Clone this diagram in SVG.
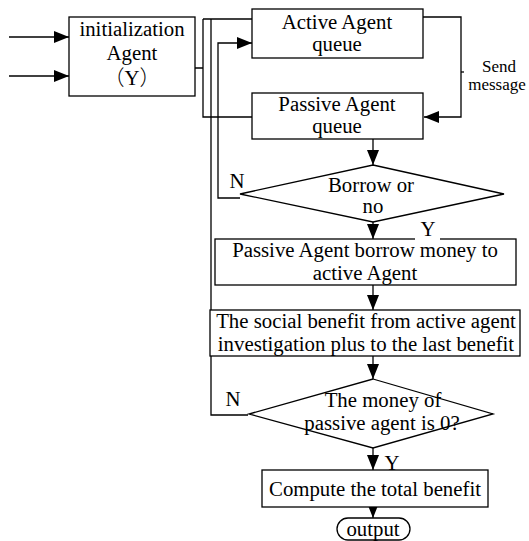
<svg xmlns="http://www.w3.org/2000/svg" width="529" height="541" viewBox="0 0 529 541">
<style>
.box{fill:#fff;stroke:#000;stroke-width:1.3}
.ln{fill:none;stroke:#000;stroke-width:1.3}
.t{font-family:"Liberation Serif","Times New Roman",Times,serif;font-size:20.8px;fill:#000;text-anchor:middle}
.s{font-size:17px}
.cjk{font-family:"Noto Sans CJK SC",sans-serif;font-weight:300}
</style>
<defs>
<marker id="ah" markerUnits="userSpaceOnUse" markerWidth="16" markerHeight="12" refX="15" refY="6" orient="auto">
<path d="M0,0 L15,6 L0,12 Z" fill="#000"/>
</marker>
</defs>
<rect width="529" height="541" fill="#fff"/>
<g id="connectors">
<path class="ln" d="M9,37 H69" marker-end="url(#ah)"/>
<path class="ln" d="M9,76 H69" marker-end="url(#ah)"/>
<path class="ln" d="M195,68 H203 M203,19 V117 H252"/>
<path class="ln" d="M203,19 H272" marker-end="url(#ah)"/>
<path class="ln" d="M248,415 H211 V19"/>
<path class="ln" d="M240,198 H218 V43 H252" marker-end="url(#ah)"/>
<path class="ln" d="M423,17 H461 V117 H424" marker-end="url(#ah)"/>
<path class="ln" d="M461,72 H464"/>
<path class="ln" d="M373,139 V165" marker-end="url(#ah)"/>
<path class="ln" d="M373,222 V239" marker-end="url(#ah)"/>
<path class="ln" d="M373,285 V310" marker-end="url(#ah)"/>
<path class="ln" d="M373,356 V379" marker-end="url(#ah)"/>
<path class="ln" d="M373,448 V470" marker-end="url(#ah)"/>
<path class="ln" d="M373,507 V518" marker-end="url(#ah)"/>
<text class="t s" x="499" y="72">Send</text>
<text class="t s" x="497" y="90">message</text>
<text class="t" x="237" y="188">N</text>
<text class="t" x="233" y="406">N</text>
<text class="t" x="392" y="470">Y</text>
</g>
<g id="init">
<rect class="box" x="69" y="17" width="126" height="79"/>
<text class="t" x="132" y="36">initialization</text>
<text class="t" x="132" y="60">Agent</text>
<text class="t" x="132" y="85"><tspan class="cjk">（</tspan>Y<tspan class="cjk">）</tspan></text>
</g>
<g id="active">
<rect class="box" x="252" y="9" width="171" height="49"/>
<text class="t" x="337" y="29">Active Agent</text>
<text class="t" x="337" y="51">queue</text>
</g>
<g id="passive">
<rect class="box" x="252" y="93" width="171" height="46"/>
<text class="t" x="337" y="111">Passive Agent</text>
<text class="t" x="337" y="133">queue</text>
</g>
<g id="borrow">
<polygon class="box" points="373,165 504,194 373,222 240,194"/>
<text class="t" x="371" y="192">Borrow or</text>
<text class="t" x="373" y="213">no</text>
</g>
<g id="lend">
<rect class="box" x="215" y="239" width="301" height="46"/>
<rect x="415" y="228" width="25" height="13" fill="#fff"/>
<text class="t" x="428" y="236">Y</text>
<text class="t" x="365" y="257">Passive Agent borrow money to</text>
<text class="t" x="365" y="280">active Agent</text>
</g>
<g id="benefit">
<rect class="box" x="210" y="310" width="310" height="46"/>
<text class="t" x="366" y="328">The social benefit from active agent</text>
<text class="t" x="366" y="351">investigation plus to the last benefit</text>
</g>
<g id="money">
<polygon class="box" points="373,379 493,414 373,448 249,414"/>
<text class="t" x="383" y="407">The money of</text>
<text class="t" x="382" y="430">passive agent is 0?</text>
</g>
<g id="total">
<rect class="box" x="262" y="470" width="226" height="37"/>
<text class="t" x="375" y="496">Compute the total benefit</text>
</g>
<g id="output">
<rect class="box" x="337" y="518" width="73" height="22" rx="11"/>
<text class="t" x="373" y="536">output</text>
</g>
</svg>
